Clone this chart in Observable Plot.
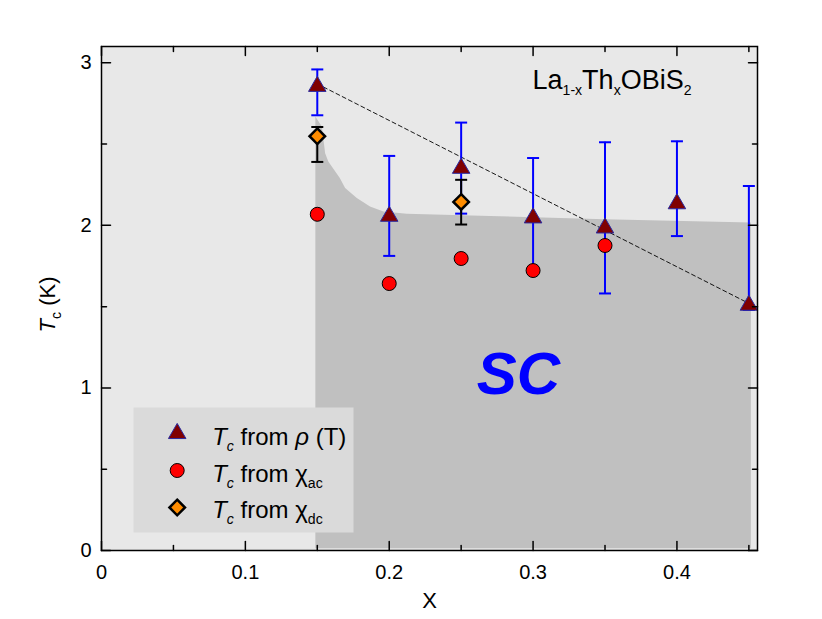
<!DOCTYPE html>
<html><head><meta charset="utf-8">
<script src="https://cdn.jsdelivr.net/npm/d3@7"></script>
<script src="https://cdn.jsdelivr.net/npm/@observablehq/plot@0.6"></script>
<style>body{margin:0;background:#fff}#chart{width:822px;height:619px}</style>
</head><body><div id="chart"></div>
<script>
const font = "'Liberation Sans', Arial, Helvetica, sans-serif";

// ---- data ----
const xRho = [0.15, 0.2, 0.25, 0.3, 0.35, 0.4, 0.45];
const tcRho = [2.855, 2.056, 2.351, 2.046, 1.984, 2.133, 1.509];
const rhoErrLow = [2.677, 1.812, 2.072, 1.72, 1.581, 1.934, 1.48];
const rhoErrHigh = [2.959, 2.427, 2.632, 2.414, 2.511, 2.517, 2.242];

const xAc = [0.15, 0.2, 0.25, 0.3, 0.35];
const tcAc = [2.068, 1.642, 1.796, 1.722, 1.876];

const xDc = [0.15, 0.25];
const tcDc = [2.548, 2.144];
const dcErrLow = [2.39, 2.005];
const dcErrHigh = [2.605, 2.28];

const fitX = [0.15, 0.45];
const fitTc = [2.87, 1.52];

const scX  = [0.149, 0.1535, 0.1558, 0.158, 0.166, 0.1697, 0.1778, 0.187, 0.1963, 0.2126, 0.2705, 0.35, 0.4517];
const scTc = [2.666, 2.605, 2.441, 2.39, 2.288, 2.226, 2.165, 2.113, 2.082, 2.068, 2.055, 2.035, 2.015];

const xMajor = [0, 0.1, 0.2, 0.3, 0.4];
const xMinor = [0.05, 0.15, 0.25, 0.35, 0.45];
const yMajor = [0, 1, 2, 3];
const yMinor = [0.5, 1.5, 2.5];

const legendLabels = ["Tc from ρ (T)", "Tc from χac", "Tc from χdc"];
const titleText = "La1-xThxOBiS2";
const xLabel = "X";
const yLabel = "Tc (K)";
const scLabel = "SC";

// rich-text segments (i: italic, s: subscript)
const rich = {
  "Tc from ρ (T)": [{t:"T",i:1},{t:"c",i:1,s:1},{t:" from "},{t:"ρ",i:1},{t:" (T)"}],
  "Tc from χac": [{t:"T",i:1},{t:"c",i:1,s:1},{t:" from χ"},{t:"ac",s:1}],
  "Tc from χdc": [{t:"T",i:1},{t:"c",i:1,s:1},{t:" from χ"},{t:"dc",s:1}],
  "La1-xThxOBiS2": [{t:"La"},{t:"1-x",s:1},{t:"Th"},{t:"x",s:1},{t:"OBiS"},{t:"2",s:1}],
  "Tc (K)": [{t:"T",i:1},{t:"c",s:1},{t:" (K)"}]
};

// ---- tables ----
const rho = xRho.map((x, i) => ({x, tc: tcRho[i], lo: rhoErrLow[i], hi: rhoErrHigh[i]}));
const ac = xAc.map((x, i) => ({x, tc: tcAc[i]}));
const dc = xDc.map((x, i) => ({x, tc: tcDc[i], lo: dcErrLow[i], hi: dcErrHigh[i]}));
const fit = fitX.map((x, i) => ({x, tc: fitTc[i]}));
const sc = scX.map((x, i) => ({x, tc: scTc[i]}));

const xMax = 0.456, yMax = 3.1;

const tickShape = {draw(ctx, l) { ctx.moveTo(0, 0); ctx.lineTo(0, -l); }};
const capSymbol = {draw(ctx, size) { const r = Math.sqrt(size / Math.PI); ctx.moveTo(-r, 0); ctx.lineTo(r, 0); }};

function ticks(values, len, side) {
  const o = {length: len, anchor: "start", shape: tickShape, stroke: "black", strokeWidth: 1.5};
  if (side === "bottom") return Plot.vector(values, {...o, x: d => d, y: 0, rotate: 0});
  if (side === "top") return Plot.vector(values, {...o, x: d => d, y: yMax, rotate: 180});
  if (side === "left") return Plot.vector(values, {...o, x: 0, y: d => d, rotate: 90});
  return Plot.vector(values, {...o, x: xMax, y: d => d, rotate: -90});
}

const legendSymX = 75.7, legendTextX = 110.7;
const legendRowsY = [387, 424, 461];
const legendTextY = [391, 428, 464];

const plot = Plot.plot({
  width: 822, height: 619,
  marginLeft: 101, marginRight: 65, marginTop: 46, marginBottom: 69,
  style: {fontFamily: font, fontSize: "20px", background: "white", color: "black", overflow: "visible"},
  x: {domain: [0, xMax]},
  y: {domain: [0, yMax]},
  marks: [
    Plot.frame({fill: "#e8e8e8", stroke: "none"}),
    Plot.areaY(sc, {x: "x", y1: 0.01, y2: "tc", fill: "#c0c0c0"}),
    Plot.frame({fill: "#dadada", stroke: "none", insetLeft: 32, insetTop: 361, insetRight: 404, insetBottom: 18}),
    Plot.line(fit, {x: "x", y: "tc", stroke: "black", strokeWidth: 0.9, strokeDasharray: "4,3"}),
    Plot.ruleX(rho, {x: "x", y1: "lo", y2: "hi", stroke: "#0000ff", strokeWidth: 2}),
    Plot.dot(rho, {x: "x", y: "lo", symbol: capSymbol, r: 6, fill: "none", stroke: "#0000ff", strokeWidth: 2}),
    Plot.dot(rho, {x: "x", y: "hi", symbol: capSymbol, r: 6, fill: "none", stroke: "#0000ff", strokeWidth: 2}),
    Plot.ruleX(dc, {x: "x", y1: "lo", y2: "hi", stroke: "black", strokeWidth: 2}),
    Plot.dot(dc, {x: "x", y: "lo", symbol: capSymbol, r: 6, fill: "none", stroke: "black", strokeWidth: 2}),
    Plot.dot(dc, {x: "x", y: "hi", symbol: capSymbol, r: 6, fill: "none", stroke: "black", strokeWidth: 2}),
    Plot.dot(ac, {x: "x", y: "tc", r: 7, fill: "#ff0000", stroke: "black", strokeWidth: 1}),
    Plot.dot(dc, {x: "x", y: "tc", symbol: "diamond2", r: 7, fill: "#ff8c00", stroke: "black", strokeWidth: 2.5}),
    Plot.dot(rho, {x: "x", y: "tc", symbol: "triangle", r: 6.5, fill: "#800000", stroke: "#2a2aa0", strokeWidth: 1}),
    // legend
    Plot.dot([0], {frameAnchor: "top-left", dx: legendSymX, dy: legendRowsY[0], symbol: "triangle", r: 6.5, fill: "#800000", stroke: "#2a2aa0", strokeWidth: 1}),
    Plot.dot([0], {frameAnchor: "top-left", dx: legendSymX, dy: legendRowsY[1], r: 7, fill: "#ff0000", stroke: "black", strokeWidth: 1}),
    Plot.dot([0], {frameAnchor: "top-left", dx: legendSymX, dy: legendRowsY[2], symbol: "diamond2", r: 7, fill: "#ff8c00", stroke: "black", strokeWidth: 2.5}),
    ...legendLabels.map((t, i) => Plot.text([t], {text: d => d, frameAnchor: "top-left", textAnchor: "start", lineAnchor: "middle", dx: legendTextX, dy: legendTextY[i], fontSize: 24, fill: "black"})),
    // title & SC
    Plot.text([titleText], {text: d => d, frameAnchor: "top-left", textAnchor: "start", lineAnchor: "middle", dx: 431, dy: 34, fontSize: 27, fill: "black"}),
    Plot.text([scLabel], {text: d => d, frameAnchor: "top-left", textAnchor: "middle", lineAnchor: "middle", dx: 417, dy: 328, fontSize: 60, fontWeight: "bold", fontStyle: "italic", fill: "#0000ff"}),
    // frame and ticks
    Plot.frame({stroke: "black", strokeWidth: 1.5}),
    ticks(xMajor, 9, "bottom"), ticks(xMinor, 5, "bottom"),
    ticks(xMajor, 9, "top"), ticks(xMinor, 5, "top"),
    ticks(yMajor, 9, "left"), ticks(yMinor, 5, "left"),
    ticks(yMajor, 9, "right"), ticks(yMinor, 5, "right"),
    Plot.axisX({ticks: xMajor, tickSize: 0, tickPadding: 14, tickFormat: d => String(d), label: null, fontSize: 20}),
    Plot.axisY({ticks: yMajor, tickSize: 0, tickPadding: 10, tickFormat: d => String(d), label: null, fontSize: 20}),
    Plot.text([xLabel], {text: d => d, frameAnchor: "bottom", lineAnchor: "middle", dy: 50, fontSize: 22, fill: "black"}),
    Plot.text([yLabel], {text: d => d, frameAnchor: "left", lineAnchor: "middle", textAnchor: "middle", rotate: -90, dx: -54, dy: 6, fontSize: 22, fill: "black"})
  ]
});

// rich text: italic + subscripts
d3.select(plot).selectAll("text").each(function() {
  const key = this.textContent;
  const segs = rich[key];
  if (!segs) return;
  const el = d3.select(this);
  const fs = parseFloat(el.attr("font-size") || getComputedStyle(this).fontSize) || 22;
  el.text(null);
  let shift = 0;
  const target = fs * 0.28;
  for (const s of segs) {
    const ts = el.append("tspan").text(s.t);
    if (s.i) ts.attr("font-style", "italic");
    if (s.s) ts.attr("font-size", fs * 0.64);
    const want = s.s ? target : 0;
    if (want !== shift) { ts.attr("dy", want - shift); shift = want; }
  }
});

document.getElementById("chart").appendChild(plot);
</script>
</body></html>
